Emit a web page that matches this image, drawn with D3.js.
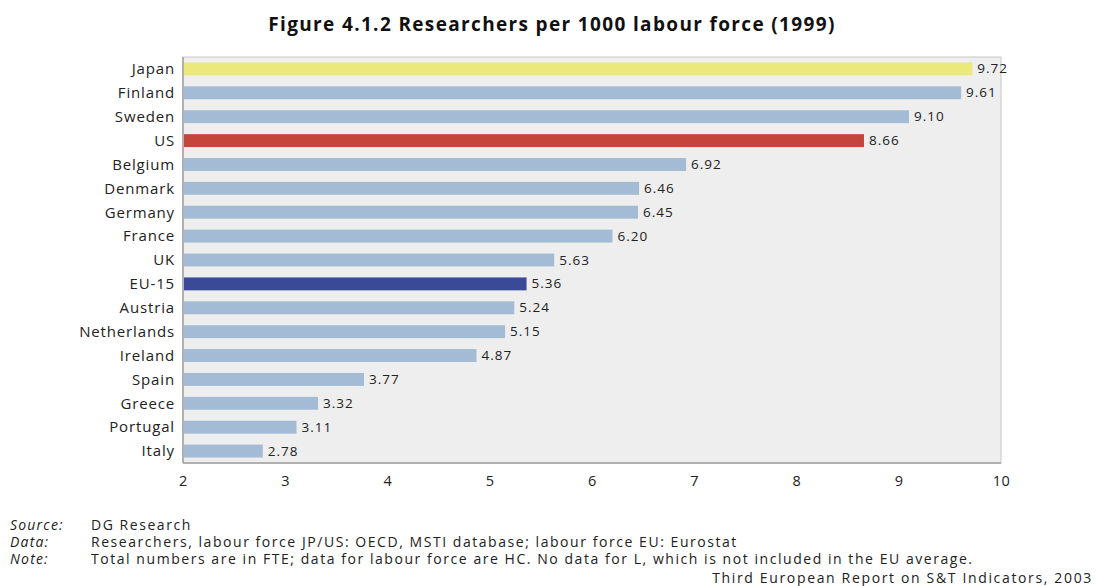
<!DOCTYPE html>
<html><head><meta charset="utf-8">
<script src="https://cdn.jsdelivr.net/npm/d3@7"></script>
<style>body{margin:0;background:#fff}svg{display:block}text{font-family:"Open Sans","Noto Sans",sans-serif}</style>
</head><body>
<script>
const categories = ["Japan","Finland","Sweden","US","Belgium","Denmark","Germany","France","UK","EU-15","Austria","Netherlands","Ireland","Spain","Greece","Portugal","Italy"];
const values = [9.72,9.61,9.10,8.66,6.92,6.46,6.45,6.20,5.63,5.36,5.24,5.15,4.87,3.77,3.32,3.11,2.78];
const highlight = {"Japan":"#ece97c","US":"#c5453b","EU-15":"#3a4a97"};
const baseColor = "#a3bbd4";
const xTicks = [2,3,4,5,6,7,8,9,10];
const footnotes = [
  ["Source:","DG Research"],
  ["Data:","Researchers, labour force JP/US: OECD, MSTI database; labour force EU: Eurostat"],
  ["Note:","Total numbers are in FTE; data for labour force are HC. No data for L, which is not included in the EU average."]
];
const credit = "Third European Report on S&T Indicators, 2003";
const title = "Figure 4.1.2 Researchers per 1000 labour force (1999)";

const W=1097,H=586;
const svg=d3.select("body").append("svg").attr("width",W).attr("height",H);
const m={l:183,r:1001,t:57,b:463};
const x=d3.scaleLinear().domain([2,10]).range([m.l,m.r]);
const y=d3.scaleBand().domain(categories).range([m.t,m.b]).paddingInner(0.46).paddingOuter(0.23);

svg.append("text").attr("x",552).attr("y",31).attr("text-anchor","middle")
  .attr("font-size",19).attr("font-weight","bold").attr("letter-spacing",1.35).attr("fill","#111").text(title);

svg.append("rect").attr("x",m.l).attr("y",m.t).attr("width",m.r-m.l).attr("height",m.b-m.t)
  .attr("fill","#eeeeee").attr("stroke","#c8c8c8").attr("stroke-width",1);
svg.append("line").attr("x1",m.l).attr("x2",m.l).attr("y1",m.t).attr("y2",m.b).attr("stroke","#a0a0a0").attr("stroke-width",1.5);
svg.append("line").attr("x1",m.l).attr("x2",m.r).attr("y1",m.b).attr("y2",m.b).attr("stroke","#a0a0a0").attr("stroke-width",1.5);

svg.selectAll("rect.bar").data(categories).join("rect").attr("class","bar")
  .attr("x",x(2)+1).attr("y",d=>y(d)).attr("height",y.bandwidth())
  .attr("width",(d,i)=>x(values[i])-x(2)-1)
  .attr("fill",d=>highlight[d]||baseColor);

svg.selectAll("text.val").data(categories).join("text").attr("class","val")
  .attr("x",(d,i)=>x(values[i])+5).attr("y",d=>y(d)+y.bandwidth()/2+4.5)
  .attr("font-size",13.5).attr("letter-spacing",1).attr("fill","#222").text((d,i)=>values[i].toFixed(2));

const yAxis=svg.append("g").attr("transform",`translate(${m.l-8},0.5)`)
  .call(d3.axisLeft(y).tickSize(0).tickPadding(0));
yAxis.select(".domain").remove();
yAxis.selectAll("text").attr("font-size",15).attr("letter-spacing",0.85).attr("fill","#222").attr("font-family","'Open Sans','Noto Sans',sans-serif");

const xAxis=svg.append("g").attr("transform",`translate(0,${m.b+10})`)
  .call(d3.axisBottom(x).tickValues(xTicks).tickSize(0).tickPadding(3).tickFormat(d3.format("d")));
xAxis.select(".domain").remove();
xAxis.selectAll("text").attr("font-size",14.5).attr("letter-spacing",0.5).attr("fill","#222").attr("font-family","'Open Sans','Noto Sans',sans-serif");

footnotes.forEach((f,i)=>{
  const yy=530+i*17;
  svg.append("text").attr("x",10).attr("y",yy).attr("font-size",14).attr("letter-spacing",1.2).attr("font-style","italic").attr("fill","#222").text(f[0]);
  svg.append("text").attr("x",91).attr("y",yy).attr("font-size",14).attr("letter-spacing",1.55).attr("fill","#222").text(f[1]);
});
svg.append("text").attr("x",1093).attr("y",583).attr("text-anchor","end").attr("font-size",14).attr("letter-spacing",1.65).attr("fill","#222").text(credit);
</script>
</body></html>
